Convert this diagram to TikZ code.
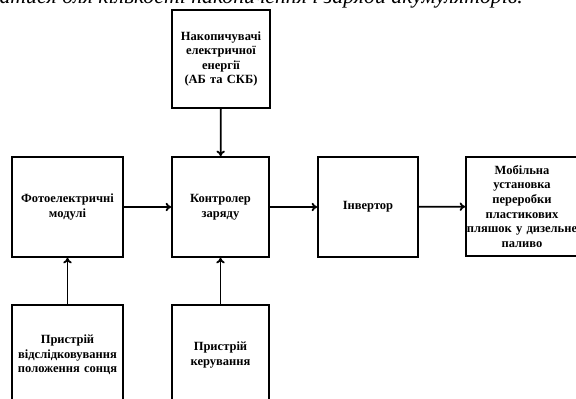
\documentclass[tikz,border=0pt]{standalone}
\usepackage{fontspec}
\setmainfont{Liberation Serif}
\usetikzlibrary{arrows.meta}
\begin{document}
\begin{tikzpicture}[x=0.025cm,y=-0.025cm,>={To[length=4pt,width=6pt]},
    blok/.style={draw,line width=1.1pt,inner sep=0pt,align=center,
        minimum height=2.5cm,font=\fontsize{8.9}{10.4}\selectfont\bfseries},
    sv/.style={line width=1.3pt,->}]
    \useasboundingbox (0,0) rectangle (576,399);
    \begin{scope}
        \clip (0,0) rectangle (576,399);
        % top row of the page text, cut off by the page edge
        \node[anchor=base east,font=\fontsize{15.5}{17}\selectfont\itshape,inner sep=0pt] (txt) at (523,3.5)
            {атися для кількості накопичення і заряди акумуляторів.};
        % blocks
        \node[blok,minimum width=2.45cm,minimum height=2.45cm,text width=2.4cm] (nakop) at (221,59)
            {Накопичувачі\\ електричної\\ енергії\\ (АБ та СКБ)};
        \node[blok,minimum width=2.775cm,text width=2.75cm] (foto) at (67.5,207)
            {Фотоелектричні\\ модулі};
        \node[blok,minimum width=2.425cm,text width=2.4cm] (kontr) at (220.5,207)
            {Контролер\\ заряду};
        \node[blok,minimum width=2.5cm,text width=2.45cm] (invert) at (368,207)
            {Інвертор};
        \node[blok,minimum width=2.8cm,minimum height=2.475cm,text width=2.8cm] (mobil) at (522,206.5)
            {Мобільна\\ установка\\ переробки\\ пластикових\\ \mbox{пляшок у дизельне}\\ паливо};
        \node[blok,minimum width=2.775cm,text width=2.75cm] (trek) at (67.5,355)
            {Пристрій\\ відслідковування\\ положення сонця};
        \node[blok,minimum width=2.425cm,text width=2.4cm] (keruv) at (220.5,355)
            {Пристрій\\ керування};
    \end{scope}
    % connections
    \draw[sv] (nakop) -- (kontr);
    \draw[sv] (foto) -- (kontr);
    \draw[sv] (kontr) -- (invert);
    \draw[sv] (invert) -- (mobil);
    \draw[sv] (trek) -- (foto);
    \draw[sv] (keruv) -- (kontr);
\end{tikzpicture}
\end{document}
